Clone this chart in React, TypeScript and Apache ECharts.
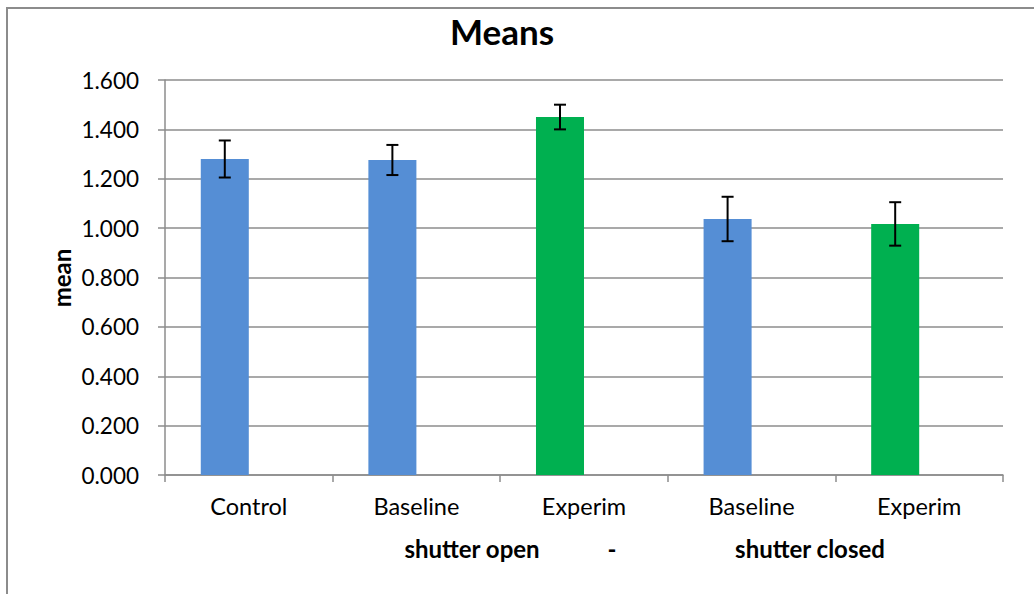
import React, { useEffect, useRef } from "react";
import * as echarts from "echarts";

const categories = ["Control", "Baseline", "Experim", "Baseline", "Experim"];
const means = [1.28, 1.276, 1.45, 1.037, 1.017];
const errors = [0.075, 0.061, 0.05, 0.09, 0.088];
const groups = ["blue", "blue", "green", "blue", "green"];
const yTicks = { min: 0, max: 1.6, interval: 0.2 };
const xTitleParts = ["shutter open", "-", "shutter closed"];

const COLORS: Record<string, string> = { blue: "#558ED5", green: "#00B050" };
const FONT = "Lato";
const GRID_COLOR = "#8c8c8c";
const CAT_GAP = 0.427;

export default function App() {
  const ref = useRef<HTMLDivElement>(null);
  useEffect(() => {
    if (!ref.current) return;
    const chart = echarts.init(ref.current, undefined, { renderer: "svg" });
    const barData = means.map((v, i) => ({ value: v, itemStyle: { color: COLORS[groups[i]] } }));
    const errData = means.map((m, i) => [i, m - errors[i], m + errors[i]]);
    const nameStyle = { fontSize: 24, fontWeight: "bold", fontFamily: FONT, fill: "#000", textAlign: "center", textVerticalAlign: "middle" };
    chart.setOption({
      animation: false,
      textStyle: { fontFamily: FONT },
      title: {
        text: "Means",
        left: 502,
        top: 13,
        textAlign: "center",
        padding: 0,
        textStyle: { fontSize: 35, fontWeight: "bold", color: "#000", fontFamily: FONT },
      },
      grid: { left: 165, right: 31, top: 80, bottom: 119, containLabel: false },
      xAxis: {
        type: "category",
        data: categories,
        axisLine: { lineStyle: { color: GRID_COLOR, width: 1.5 } },
        axisTick: { show: true, length: 7, lineStyle: { color: GRID_COLOR, width: 1.5 } },
        axisLabel: { color: "#000", fontSize: 23.5, margin: 19, fontFamily: FONT },
        splitLine: { show: false },
      },
      yAxis: {
        type: "value",
        min: yTicks.min,
        max: yTicks.max,
        interval: yTicks.interval,
        axisLine: { show: true, lineStyle: { color: GRID_COLOR, width: 1.5 } },
        axisTick: { show: true, length: 7, lineStyle: { color: GRID_COLOR, width: 1.5 } },
        axisLabel: {
          color: "#000",
          fontSize: 22.5,
          margin: 26,
          fontFamily: FONT,
          formatter: (v: number) => v.toFixed(3),
        },
        splitLine: { show: true, lineStyle: { color: GRID_COLOR, width: 1.5 } },
      },
      series: [
        {
          type: "bar",
          name: "mean",
          data: barData,
          barGap: "0%",
          barCategoryGap: (CAT_GAP * 100).toFixed(1) + "%",
          z: 2,
        },
        {
          type: "bar",
          name: "empty",
          data: means.map(() => 0),
          itemStyle: { color: "#00B050" },
          silent: true,
        },
        {
          type: "custom",
          name: "error",
          data: errData,
          z: 5,
          encode: { x: 0, y: [1, 2] },
          renderItem: (params: any, api: any) => {
            const idx = api.value(0);
            const lo = api.coord([idx, api.value(1)]);
            const hi = api.coord([idx, api.value(2)]);
            const catW = api.size([1, 0])[0];
            const dx = (-catW * (1 - CAT_GAP)) / 4;
            const x = hi[0] + dx;
            const cap = 6;
            const style = { stroke: "#000", lineWidth: 2 };
            return {
              type: "group",
              children: [
                { type: "line", shape: { x1: x, y1: hi[1], x2: x, y2: lo[1] }, style },
                { type: "line", shape: { x1: x - cap, y1: hi[1], x2: x + cap, y2: hi[1] }, style },
                { type: "line", shape: { x1: x - cap, y1: lo[1], x2: x + cap, y2: lo[1] }, style },
              ],
            };
          },
        },
      ],
      graphic: [
        {
          type: "rect",
          shape: { x: 7, y: 8, width: 1100, height: 700 },
          style: { fill: "none", stroke: GRID_COLOR, lineWidth: 2 },
          silent: true,
        },
        {
          type: "text",
          x: 61,
          y: 278,
          rotation: Math.PI / 2,
          style: { ...nameStyle, text: "mean" },
        },
        { type: "text", x: 472, y: 548, style: { ...nameStyle, text: xTitleParts[0] } },
        { type: "text", x: 612, y: 548, style: { ...nameStyle, text: xTitleParts[1] } },
        { type: "text", x: 810, y: 548, style: { ...nameStyle, text: xTitleParts[2] } },
      ],
    });
    return () => chart.dispose();
  }, []);
  return (
    <div
      ref={ref}
      style={{ position: "fixed", left: 0, top: 0, width: 1034, height: 594, background: "#fff" }}
    />
  );
}
